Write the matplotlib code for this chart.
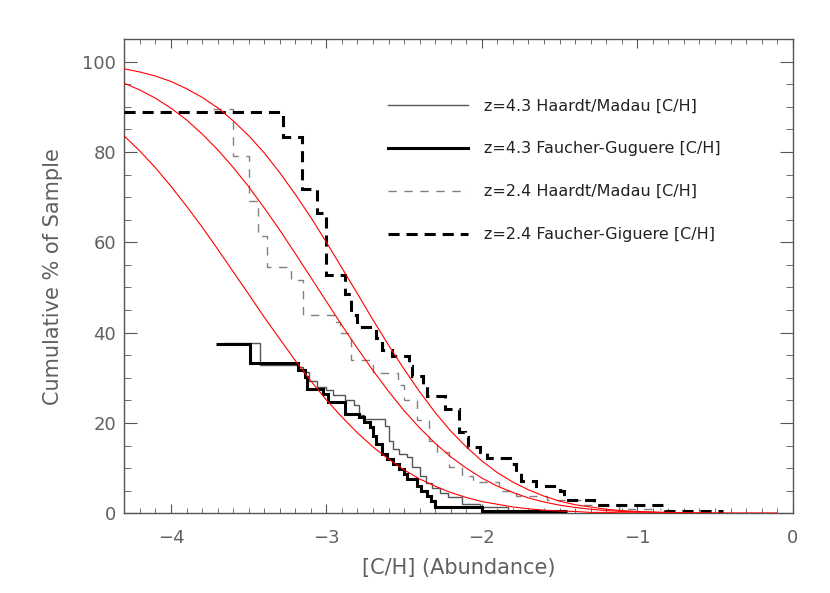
import numpy as np
import matplotlib
matplotlib.use("Agg")
import matplotlib.pyplot as plt
from matplotlib.lines import Line2D
from matplotlib.ticker import MultipleLocator

plt.rcParams['lines.scale_dashes'] = False
plt.rcParams['font.family'] = ['DejaVu Sans']

# ---------------------------------------------------
# red model curves
red_x = [-4.3, -4.2, -4.1, -4.0, -3.9, -3.8, -3.7, -3.6, -3.5, -3.4, -3.3, -3.2, -3.1,
         -3.0, -2.9, -2.8, -2.7, -2.6, -2.5, -2.4, -2.3, -2.2, -2.1, -2.0, -1.9, -1.8,
         -1.7, -1.6, -1.5, -1.4, -1.3, -1.2, -1.1, -1.0, -0.9, -0.8, -0.6, -0.4, -0.1]
red_a = [98.4, 97.7, 96.8, 95.6, 94.0, 92.1, 89.8, 86.9, 83.6, 79.8, 75.4, 70.6, 65.5,
         60.0, 54.3, 48.6, 42.8, 37.2, 31.9, 26.9, 22.3, 18.2, 14.7, 11.6, 9.0, 6.9,
         5.2, 3.8, 2.7, 1.9, 1.4, 0.9, 0.6, 0.4, 0.3, 0.2, 0.1, 0.0, 0.0]
red_b = [95.2, 93.7, 91.9, 89.7, 87.1, 84.0, 80.5, 76.6, 72.3, 67.6, 62.7, 57.5, 52.2,
         46.9, 41.6, 36.5, 31.6, 27.0, 22.7, 18.9, 15.5, 12.5, 10.0, 7.8, 6.0, 4.6,
         3.4, 2.5, 1.8, 1.3, 0.9, 0.6, 0.4, 0.3, 0.2, 0.1, 0.0, 0.0, 0.0]
red_c = [83.5, 80.2, 76.5, 72.4, 68.0, 63.4, 58.5, 53.5, 48.5, 43.4, 38.6, 33.8, 29.3,
         25.1, 21.3, 17.8, 14.7, 12.0, 9.6, 7.6, 6.0, 4.6, 3.5, 2.6, 2.0, 1.4,
         1.0, 0.7, 0.5, 0.4, 0.2, 0.2, 0.1, 0.1, 0.0, 0.0, 0.0, 0.0, 0.0]

# z=4.3 Haardt/Madau (thin solid)
hm43_edges = [-3.66, -3.43, -3.18, -3.15, -3.11, -3.06, -3.00, -2.96, -2.88, -2.82, -2.79,
              -2.76, -2.62, -2.60, -2.57, -2.53, -2.48, -2.45, -2.40, -2.36, -2.32, -2.27,
              -2.22, -2.13, -2.01, -1.83, -1.45]
hm43_vals = [37.6, 32.8, 32.4, 31.3, 29.4, 28.0, 27.2, 26.1, 25.0, 23.9, 21.7, 20.9, 19.4,
             16.1, 14.3, 13.2, 12.4, 10.2, 8.3, 6.8, 5.7, 4.6, 3.5, 2.0, 1.3, 0.6]

# z=4.3 Faucher-Giguere (thick solid)
fg43_edges = [-3.71, -3.49, -3.18, -3.14, -3.125, -3.02, -2.99, -2.88, -2.79, -2.755, -2.72,
              -2.70, -2.68, -2.64, -2.61, -2.57, -2.53, -2.50, -2.48, -2.42, -2.39, -2.35,
              -2.33, -2.30, -2.00, -1.45]
fg43_vals = [37.4, 33.2, 31.7, 30.2, 27.6, 26.5, 24.6, 22.0, 21.3, 20.2, 19.1, 17.2, 15.4,
             13.2, 12.0, 10.9, 9.8, 8.7, 7.6, 6.1, 5.0, 3.9, 2.8, 1.3, 0.6]

# z=2.4 Haardt/Madau (thin dashed)
hm24_edges = [-3.73, -3.60, -3.50, -3.44, -3.38, -3.23, -3.15, -2.94, -2.91, -2.84, -2.70,
              -2.54, -2.50, -2.42, -2.34, -2.29, -2.21, -2.13, -2.06, -1.89, -1.78, -1.58,
              -1.36, -1.12, -0.85]
hm24_vals = [89.6, 79.2, 69.1, 61.3, 54.6, 51.7, 43.9, 42.3, 39.9, 33.9, 31.0, 28.3, 25.0,
             20.6, 16.1, 13.5, 10.2, 8.3, 7.0, 5.0, 3.9, 2.9, 1.9, 1.0]

# z=2.4 Faucher-Giguere (thick dashed)
fg24_edges = [-4.30, -3.28, -3.16, -3.06, -3.00, -2.88, -2.84, -2.80, -2.68, -2.64, -2.58,
              -2.47, -2.45, -2.38, -2.35, -2.24, -2.15, -2.11, -2.09, -2.01, -1.97, -1.82,
              -1.78, -1.75, -1.65, -1.50, -1.47, -1.28, -0.82, -0.45]
fg24_vals = [88.8, 83.2, 71.8, 66.5, 52.8, 48.5, 43.9, 41.2, 38.8, 36.2, 34.8, 32.6, 30.5,
             28.2, 25.9, 23.2, 18.0, 16.8, 14.6, 13.5, 12.3, 11.0, 9.2, 7.1, 6.0, 5.0,
             2.9, 1.9, 0.6]

labels = ["z=4.3 Haardt/Madau [C/H]", "z=4.3 Faucher-Guguere [C/H]",
          "z=2.4 Haardt/Madau [C/H]", "z=2.4 Faucher-Giguere [C/H]"]
# ---------------------------------------------------

thin_dash = (0, (6.0, 5.5))
thick_dash = (0, (8.0, 5.0))
grey_txt = '#606060'

fig = plt.figure(figsize=(8.3, 5.93), dpi=100)
ax = fig.add_axes([0.1498, 0.1344, 0.8053, 0.7998])

ax.stairs(hm43_vals, hm43_edges, baseline=None, color='#555555', lw=1.0, zorder=3)
ax.stairs(fg43_vals, fg43_edges, baseline=None, color='black', lw=2.2, zorder=4)
ax.stairs(hm24_vals, hm24_edges, baseline=None, color='#808080', lw=1.0,
          linestyle=thin_dash, zorder=3)
ax.stairs(fg24_vals, fg24_edges, baseline=None, color='black', lw=2.2,
          linestyle=thick_dash, zorder=4)

for ys in (red_a, red_b, red_c):
    ax.plot(red_x, ys, color='red', lw=0.8, zorder=5)

ax.set_xlim(-4.3, 0)
ax.set_ylim(0, 105)
ax.xaxis.set_major_locator(MultipleLocator(1))
ax.xaxis.set_minor_locator(MultipleLocator(0.1))
ax.yaxis.set_major_locator(MultipleLocator(20))
ax.yaxis.set_minor_locator(MultipleLocator(5))
ax.tick_params(axis='both', which='both', direction='in', top=True, right=True,
               colors='#555555', labelcolor=grey_txt, labelsize=13)
ax.tick_params(axis='x', which='major', length=6.5, pad=11)
ax.tick_params(axis='x', which='minor', length=3.3)
ax.tick_params(axis='y', which='major', length=9.5, pad=6)
ax.tick_params(axis='y', which='minor', length=5)
for sp in ax.spines.values():
    sp.set_color('#555555')
    sp.set_linewidth(1.0)

ax.set_xlabel("[C/H] (Abundance)", fontsize=15, color=grey_txt, labelpad=8)
ax.set_ylabel("Cumulative % of Sample", fontsize=15, color=grey_txt, labelpad=14)

handles = [Line2D([], [], color='#555555', lw=1.0),
           Line2D([], [], color='black', lw=2.2),
           Line2D([], [], color='#808080', lw=1.0, linestyle=thin_dash),
           Line2D([], [], color='black', lw=2.2, linestyle=thick_dash)]
leg = ax.legend(handles, labels, loc='upper left', bbox_to_anchor=(0.3945, 0.875),
                frameon=False, fontsize=11.5, handlelength=5.0, handletextpad=1.0,
                labelspacing=1.75, borderpad=0, borderaxespad=0)
for t in leg.get_texts():
    t.set_color('#222222')

fig.savefig("out.png", dpi=100)
